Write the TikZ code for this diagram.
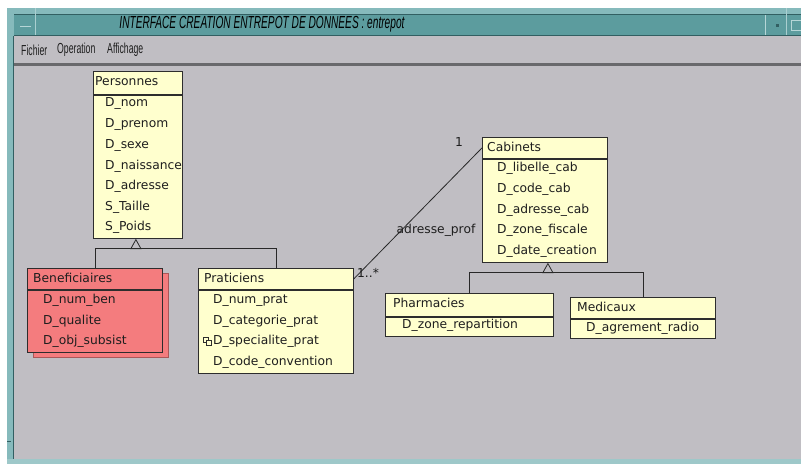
\documentclass[tikz,border=0pt]{standalone}
\usepackage{graphicx}
\usepackage{fontspec}
\setmainfont{DejaVu Sans}
\newfontfamily\titlefont{Liberation Sans}
\usetikzlibrary{calc}
\definecolor{canvasgrey}{RGB}{192,190,195}
\definecolor{frameteal}{RGB}{134,186,188}
\definecolor{titleteal}{RGB}{92,156,158}
\definecolor{darkteal}{RGB}{50,95,98}
\definecolor{classyellow}{RGB}{255,255,206}
\definecolor{classred}{RGB}{244,124,126}
\definecolor{boxline}{RGB}{45,45,45}
\definecolor{textdark}{RGB}{30,30,30}
\definecolor{linegrey}{RGB}{40,40,40}
\definecolor{sepgrey}{RGB}{105,105,108}
\begin{document}
\begin{tikzpicture}[x=1pt,y=-1pt,
  box/.style={draw=boxline, line width=0.8pt, inner sep=0pt, anchor=north west},
  ybox/.style={box, fill=classyellow},
  rbox/.style={box, fill=classred},
  row/.style={anchor=west, inner sep=0pt, text height=9pt, text depth=3pt, font=\fontsize{12.3}{14}\selectfont, text=textdark},
  lbl/.style={inner sep=0pt, text height=9pt, text depth=3pt, font=\fontsize{12.3}{14}\selectfont, text=textdark},
  conn/.style={draw=linegrey, line width=0.8pt},
  menuitem/.style={anchor=west, inner sep=0pt, text=textdark}]
\useasboundingbox (0,0) rectangle (801,464);
% ---------- window chrome ----------
\fill[white] (0,0) rectangle (801,464);
\fill[frameteal] (7,8) rectangle (801,464);
\fill[titleteal] (14,14) rectangle (801,35);
\draw[darkteal, line width=1pt] (14,35) -- (801,35);
\draw[darkteal, line width=0.8pt] (14,14) -- (801,14);
\draw[frameteal!70!white, line width=0.8pt] (35,8) -- (35,35);
\draw[frameteal!70!white, line width=0.8pt] (786,8) -- (786,35);
\draw[frameteal!60!white, line width=0.8pt] (765,15) -- (765,35);
\draw[frameteal!60!white, line width=1pt] (20,26) -- (31,26);
\fill[darkteal] (776,24) rectangle (779,27);
\draw[frameteal!60!white, line width=0.8pt] (791,20) rectangle (803,30);
\fill[canvasgrey] (14,36) rectangle (801,459);
\fill[sepgrey] (14,63) rectangle (801,65.5);
\draw[darkteal, line width=1pt] (13.5,36) -- (13.5,459);
\draw[darkteal, line width=1pt] (7,441) -- (11,441);
\fill[frameteal!80!white] (7,459) rectangle (801,464);
\node[inner sep=0pt, text=black] (title) at (262,24)
  {\scalebox{0.58}[1]{\titlefont\itshape\fontsize{17.5}{17.5}\selectfont INTERFACE CREATION ENTREPOT DE DONNEES : entrepot}};
\node[menuitem] (m1) at (21,50) {\scalebox{0.6}[1]{\titlefont\fontsize{14.5}{14.5}\selectfont Fichier}};
\node[menuitem] (m2) at (57,50) {\scalebox{0.6}[1]{\titlefont\fontsize{14.5}{14.5}\selectfont Operation}};
\node[menuitem] (m3) at (107,50) {\scalebox{0.6}[1]{\titlefont\fontsize{14.5}{14.5}\selectfont Affichage}};
% ---------- Personnes ----------
\node[ybox, minimum width=89pt, minimum height=23pt] (pers-h) at (93,71) {};
\node[ybox, minimum width=89pt, minimum height=143pt] (pers-b) at (pers-h.south west) {};
\node[row] (pers-t) at (95,82) {Personnes};
\node[row] (pers-r1) at (105,103) {D\_nom};
\node[row] (pers-r2) at (105,124) {D\_prenom};
\node[row] (pers-r3) at (105,145) {D\_sexe};
\node[row] (pers-r4) at (105,166) {D\_naissance};
\node[row] (pers-r5) at (105,186) {D\_adresse};
\node[row] (pers-r6) at (105,207) {S\_Taille};
\node[row] (pers-r7) at (105,227) {S\_Poids};
% ---------- Beneficiaires ----------
\node[rbox, draw=classred!70!black, line width=0.6pt, minimum width=135pt, minimum height=84pt] (ben-s) at (33,273) {};
\node[rbox, minimum width=135pt, minimum height=21pt] (ben-h) at (27,268) {};
\node[rbox, minimum width=135pt, minimum height=62pt] (ben-b) at (ben-h.south west) {};
\node[row] (ben-t) at (33,279) {Beneficiaires};
\node[row] (ben-r1) at (43,300) {D\_num\_ben};
\node[row] (ben-r2) at (43,321) {D\_qualite};
\node[row] (ben-r3) at (43,341) {D\_obj\_subsist};
% ---------- Praticiens ----------
\node[ybox, minimum width=155pt, minimum height=21pt] (prat-h) at (198,268) {};
\node[ybox, minimum width=155pt, minimum height=83pt] (prat-b) at (prat-h.south west) {};
\node[row] (prat-t) at (204,279) {Praticiens};
\node[row] (prat-r1) at (213,300) {D\_num\_prat};
\node[row] (prat-r2) at (213,321) {D\_categorie\_prat};
\node[row] (prat-r3) at (213,341) {D\_specialite\_prat};
\node[row] (prat-r4) at (213,362) {D\_code\_convention};
\draw[boxline, line width=0.6pt, fill=classyellow] (203,337) rectangle (208,342);
\draw[boxline, line width=0.6pt, fill=classyellow] (206,340) rectangle (211,345);
% ---------- Cabinets ----------
\node[ybox, minimum width=125pt, minimum height=21pt] (cab-h) at (482,137) {};
\node[ybox, minimum width=125pt, minimum height=103pt] (cab-b) at (cab-h.south west) {};
\node[row] (cab-t) at (487,148) {Cabinets};
\node[row] (cab-r1) at (497,168) {D\_libelle\_cab};
\node[row] (cab-r2) at (497,189) {D\_code\_cab};
\node[row] (cab-r3) at (497,210) {D\_adresse\_cab};
\node[row] (cab-r4) at (497,230) {D\_zone\_fiscale};
\node[row] (cab-r5) at (497,251) {D\_date\_creation};
% ---------- Pharmacies ----------
\node[ybox, minimum width=168pt, minimum height=23pt] (pha-h) at (385,293) {};
\node[ybox, minimum width=168pt, minimum height=19pt] (pha-b) at (pha-h.south west) {};
\node[row] (pha-t) at (393,304) {Pharmacies};
\node[row] (pha-r1) at (402,325) {D\_zone\_repartition};
% ---------- Medicaux ----------
\node[ybox, minimum width=145pt, minimum height=21pt] (med-h) at (570,297) {};
\node[ybox, minimum width=145pt, minimum height=19pt] (med-b) at (med-h.south west) {};
\node[row] (med-t) at (577,308) {Medicaux};
\node[row] (med-r1) at (586,328) {D\_agrement\_radio};
% ---------- generalisations ----------
\coordinate (t1apex) at ($(pers-b.south)+(-2,1)$);
\coordinate (t1base) at ($(t1apex)+(0,9)$);
\draw[conn] (t1apex) -- ++(-5,9) -- ++(10,0) -- cycle;
\draw[conn] (ben-h.north) |- (t1base);
\draw[conn] (prat-h.north) |- (t1base);
\coordinate (t2apex) at ($(cab-b.south)+(3,1)$);
\coordinate (t2base) at ($(t2apex)+(0,9)$);
\draw[conn] (t2apex) -- ++(-5,9) -- ++(10,0) -- cycle;
\draw[conn] (pha-h.north) |- (t2base);
\draw[conn] (med-h.north) |- (t2base);
% ---------- association ----------
\draw[conn] (prat-h.east) -- (cab-h.west);
\node[lbl] (a1) at (459,143) {1};
\node[lbl] (a2) at (368,274) {1..*};
\node[lbl] (a3) at (436,230) {adresse\_prof};
\end{tikzpicture}
\end{document}
